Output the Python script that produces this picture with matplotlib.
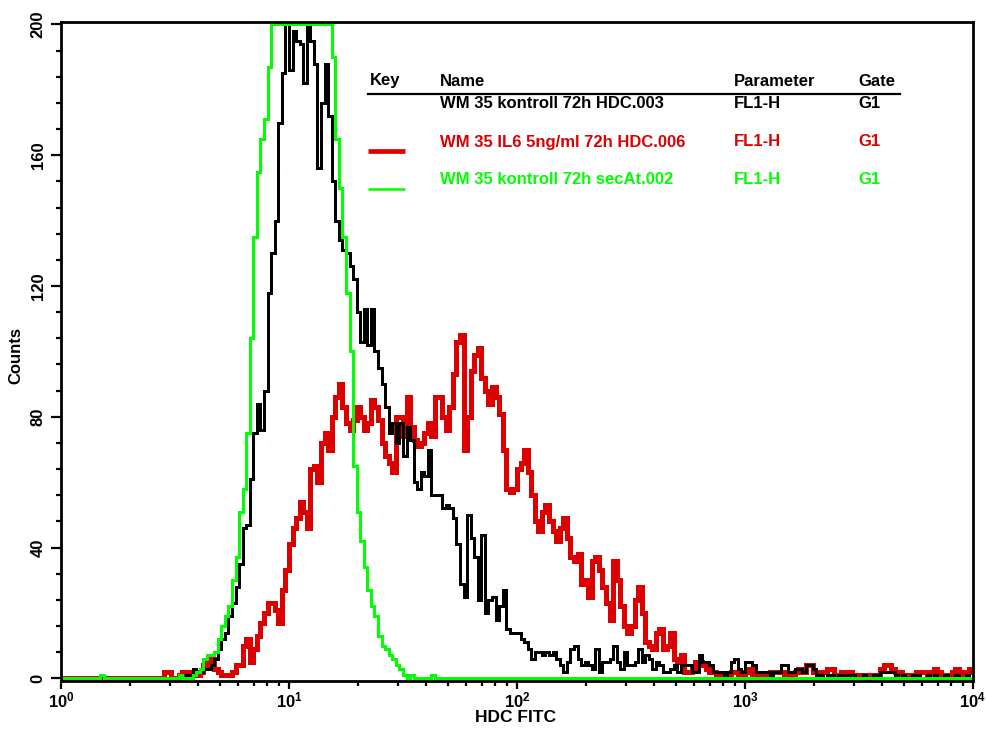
import matplotlib
matplotlib.use('Agg')
import matplotlib.pyplot as plt
from matplotlib.lines import Line2D
from matplotlib.ticker import LogLocator, NullFormatter
import numpy as np

plt.rcParams['font.family'] = ['Liberation Sans', 'DejaVu Sans']
plt.rcParams['font.weight'] = 'bold'
plt.rcParams['mathtext.fontset'] = 'custom'
plt.rcParams['mathtext.bf'] = 'Liberation Sans:bold'
plt.rcParams['mathtext.rm'] = 'Liberation Sans:bold'
plt.rcParams['mathtext.default'] = 'bf'

# 256 channel histograms over 4 log decades (counts)
n_channels = 256
n_decades = 4

black_counts = [
    0, 0, 0, 0, 0, 0, 0, 0, 0, 0, 0, 0, 0, 0, 0, 0,
    0, 0, 0, 0, 0, 0, 0, 0, 0, 0, 0, 0, 0, 0, 0, 0,
    0, 0, 0, 1, 1, 3, 2, 2, 3, 3, 4, 6, 9, 12, 14, 19,
    23, 28, 35, 46, 47, 61, 75, 84, 76, 88, 118, 130, 140, 170, 185, 200,
    186, 198, 195, 194, 182, 200, 195, 188, 156, 176, 188, 172, 152, 140, 134, 131,
    130, 126, 122, 112, 103, 113, 102, 113, 100, 95, 90, 83, 75, 78, 72, 78,
    68, 77, 73, 60, 58, 63, 62, 70, 56, 56, 56, 52, 53, 52, 49, 41,
    29, 25, 50, 43, 37, 24, 44, 20, 24, 25, 18, 22, 27, 15, 14, 14,
    14, 12, 11, 9, 6, 8, 8, 7, 8, 7, 8, 6, 4, 2, 5, 9,
    10, 6, 4, 5, 4, 3, 9, 2, 5, 5, 6, 10, 5, 3, 8, 4,
    4, 5, 9, 5, 7, 6, 3, 5, 4, 2, 2, 3, 4, 2, 4, 4,
    4, 2, 2, 7, 5, 5, 4, 2, 2, 2, 1, 2, 5, 6, 3, 2,
    5, 5, 4, 2, 2, 2, 2, 1, 2, 2, 4, 4, 2, 2, 3, 3,
    2, 4, 4, 3, 1, 1, 0, 1, 1, 0, 1, 1, 0, 1, 1, 0,
    0, 1, 0, 0, 1, 1, 2, 2, 2, 2, 1, 0, 1, 0, 0, 1,
    1, 0, 0, 1, 0, 1, 0, 0, 1, 0, 0, 1, 0, 0, 1, 0,
]

red_counts = [
    0, 0, 0, 0, 0, 0, 0, 0, 0, 0, 0, 0, 0, 0, 0, 0,
    0, 0, 0, 0, 0, 0, 0, 0, 0, 0, 0, 0, 0, 2, 2, 0,
    0, 1, 2, 2, 1, 1, 1, 2, 4, 5, 6, 3, 2, 1, 1, 1,
    2, 4, 4, 10, 12, 5, 9, 13, 17, 20, 23, 23, 21, 17, 27, 33,
    41, 46, 49, 54, 51, 46, 64, 65, 60, 72, 75, 70, 80, 86, 90, 83,
    78, 76, 79, 83, 80, 76, 78, 85, 83, 79, 72, 68, 66, 63, 80, 80,
    74, 86, 77, 73, 71, 72, 75, 78, 74, 86, 86, 80, 76, 83, 93, 103,
    105, 70, 80, 94, 99, 101, 92, 88, 84, 89, 86, 81, 70, 58, 57, 58,
    64, 66, 70, 63, 56, 48, 45, 51, 53, 48, 45, 42, 46, 49, 43, 37,
    36, 38, 29, 30, 25, 36, 37, 33, 28, 23, 18, 36, 30, 22, 16, 14,
    16, 24, 28, 20, 11, 10, 9, 14, 15, 9, 10, 14, 6, 5, 7, 2,
    2, 3, 5, 5, 4, 3, 2, 2, 1, 1, 1, 1, 2, 2, 1, 1,
    2, 3, 1, 1, 1, 1, 1, 2, 2, 2, 2, 1, 1, 1, 2, 3,
    2, 4, 4, 2, 2, 2, 2, 3, 3, 1, 1, 2, 2, 2, 1, 1,
    1, 1, 0, 1, 1, 1, 3, 4, 4, 3, 2, 2, 1, 1, 1, 1,
    2, 2, 2, 1, 2, 3, 2, 1, 1, 1, 2, 3, 2, 1, 2, 3,
]

green_counts = [
    0, 0, 0, 0, 0, 0, 0, 0, 0, 0, 0, 1, 0, 0, 0, 0,
    0, 0, 0, 0, 0, 0, 0, 0, 0, 0, 0, 0, 0, 0, 0, 0,
    0, 1, 0, 0, 0, 1, 2, 3, 6, 7, 7, 8, 12, 16, 19, 22,
    30, 37, 51, 58, 75, 104, 135, 155, 165, 171, 187, 200, 200, 200, 200, 200,
    200, 200, 200, 200, 200, 200, 200, 200, 200, 200, 200, 200, 190, 165, 150, 135,
    118, 100, 65, 51, 42, 34, 27, 22, 19, 13, 10, 9, 7, 6, 4, 3,
    1, 0, 1, 0, 0, 0, 0, 0, 1, 0, 0, 0, 0, 0, 0, 0,
    0, 0, 0, 0, 0, 0, 0, 0, 0, 0, 0, 0, 0, 0, 0, 0,
    0, 0, 0, 0, 0, 0, 0, 0, 0, 0, 0, 0, 0, 0, 0, 0,
    0, 0, 0, 0, 0, 0, 0, 0, 0, 0, 0, 0, 0, 0, 0, 0,
    0, 0, 0, 0, 0, 0, 0, 0, 0, 0, 0, 0, 0, 0, 0, 0,
    0, 0, 0, 0, 0, 0, 0, 0, 0, 0, 0, 0, 0, 0, 0, 0,
    0, 0, 0, 0, 0, 0, 0, 0, 0, 0, 0, 0, 0, 0, 0, 0,
    0, 0, 0, 0, 0, 0, 0, 0, 0, 0, 0, 0, 0, 0, 0, 0,
    0, 0, 0, 0, 0, 0, 0, 0, 0, 0, 0, 0, 0, 0, 0, 0,
    0, 0, 0, 0, 0, 0, 0, 0, 0, 0, 0, 0, 0, 0, 0, 0,
]

names = ['WM 35 kontroll 72h HDC.003', 'WM 35 IL6 5ng/ml 72h HDC.006',
         'WM 35 kontroll 72h secAt.002']
parameters = ['FL1-H', 'FL1-H', 'FL1-H']
gates = ['G1', 'G1', 'G1']
colors = ['black', '#DD0000', '#00FF00']
widths = [1.8, 3.4, 1.8]

y_major = [0, 40, 80, 120, 160, 200]
x_major = [1, 10, 100, 1000, 10000]
x_labels = [r'$10^{0}$', r'$10^{1}$', r'$10^{2}$', r'$10^{3}$', r'$10^{4}$']

W, H = 987, 734
edges = 10 ** (np.arange(n_channels + 1) * n_decades / n_channels)


def px(x, y):
    # pixel position -> figure fraction
    return x / W, 1 - y / H


fig = plt.figure(figsize=(W / 100, H / 100), dpi=100)
ax = fig.add_axes([61 / W, 53 / H, 912 / W, 659.5 / H])

# draw red first, black over it, green on top
for i in [1, 0, 2]:
    ax.stairs([black_counts, red_counts, green_counts][i], edges, baseline=None,
              color=colors[i], lw=widths[i], antialiased=False)

ax.set_xscale('log')
ax.set_xlim(1, 1e4)
ax.set_ylim(-0.8, 200.9)

ax.set_yticks(y_major)
ax.set_yticks(np.arange(0, 201, 8), minor=True)
ax.set_xticks(x_major, labels=x_labels)
ax.xaxis.set_minor_locator(LogLocator(base=10, subs=range(2, 10)))
ax.xaxis.set_minor_formatter(NullFormatter())

ax.tick_params(axis='x', which='major', length=6, width=1.6, pad=1, labelsize=12)
ax.tick_params(axis='x', which='minor', length=3.5, width=1.6)
ax.tick_params(axis='y', which='major', length=7, width=1.6, pad=4, labelsize=12,
               labelrotation=90)
ax.tick_params(axis='y', which='minor', length=3.5, width=1.6)
for lbl in ax.get_yticklabels():
    lbl.set_va('center')
for sp in ax.spines.values():
    sp.set_linewidth(2)

fig.text(*px(516, 718), 'HDC FITC', ha='center', va='center', fontsize=12.5)
fig.text(*px(16, 355), 'Counts', ha='center', va='center', rotation=90, fontsize=12)

# legend table
col_x = [370, 440, 734, 858]
for x, head in zip(col_x, ['Key', 'Name', 'Parameter', 'Gate']):
    fig.text(*px(x, 81), head, ha='left', va='center', fontsize=12)
fig.add_artist(Line2D([368 / W, 900 / W], [1 - 94 / H, 1 - 94 / H], color='black', lw=1.6))

row_y = [104, 142, 180]
for i in range(3):
    fig.text(*px(col_x[1], row_y[i]), names[i], color=colors[i], ha='left', va='center', fontsize=12)
    fig.text(*px(col_x[2], row_y[i]), parameters[i], color=colors[i], ha='left', va='center', fontsize=12)
    fig.text(*px(col_x[3], row_y[i]), gates[i], color=colors[i], ha='left', va='center', fontsize=12)
    if i > 0:
        ky = 1 - (row_y[i] + 9) / H
        fig.add_artist(Line2D([368 / W, 405 / W], [ky, ky], color=colors[i], lw=widths[i],
                              solid_capstyle='butt'))

fig.savefig('out.png', dpi=100)
